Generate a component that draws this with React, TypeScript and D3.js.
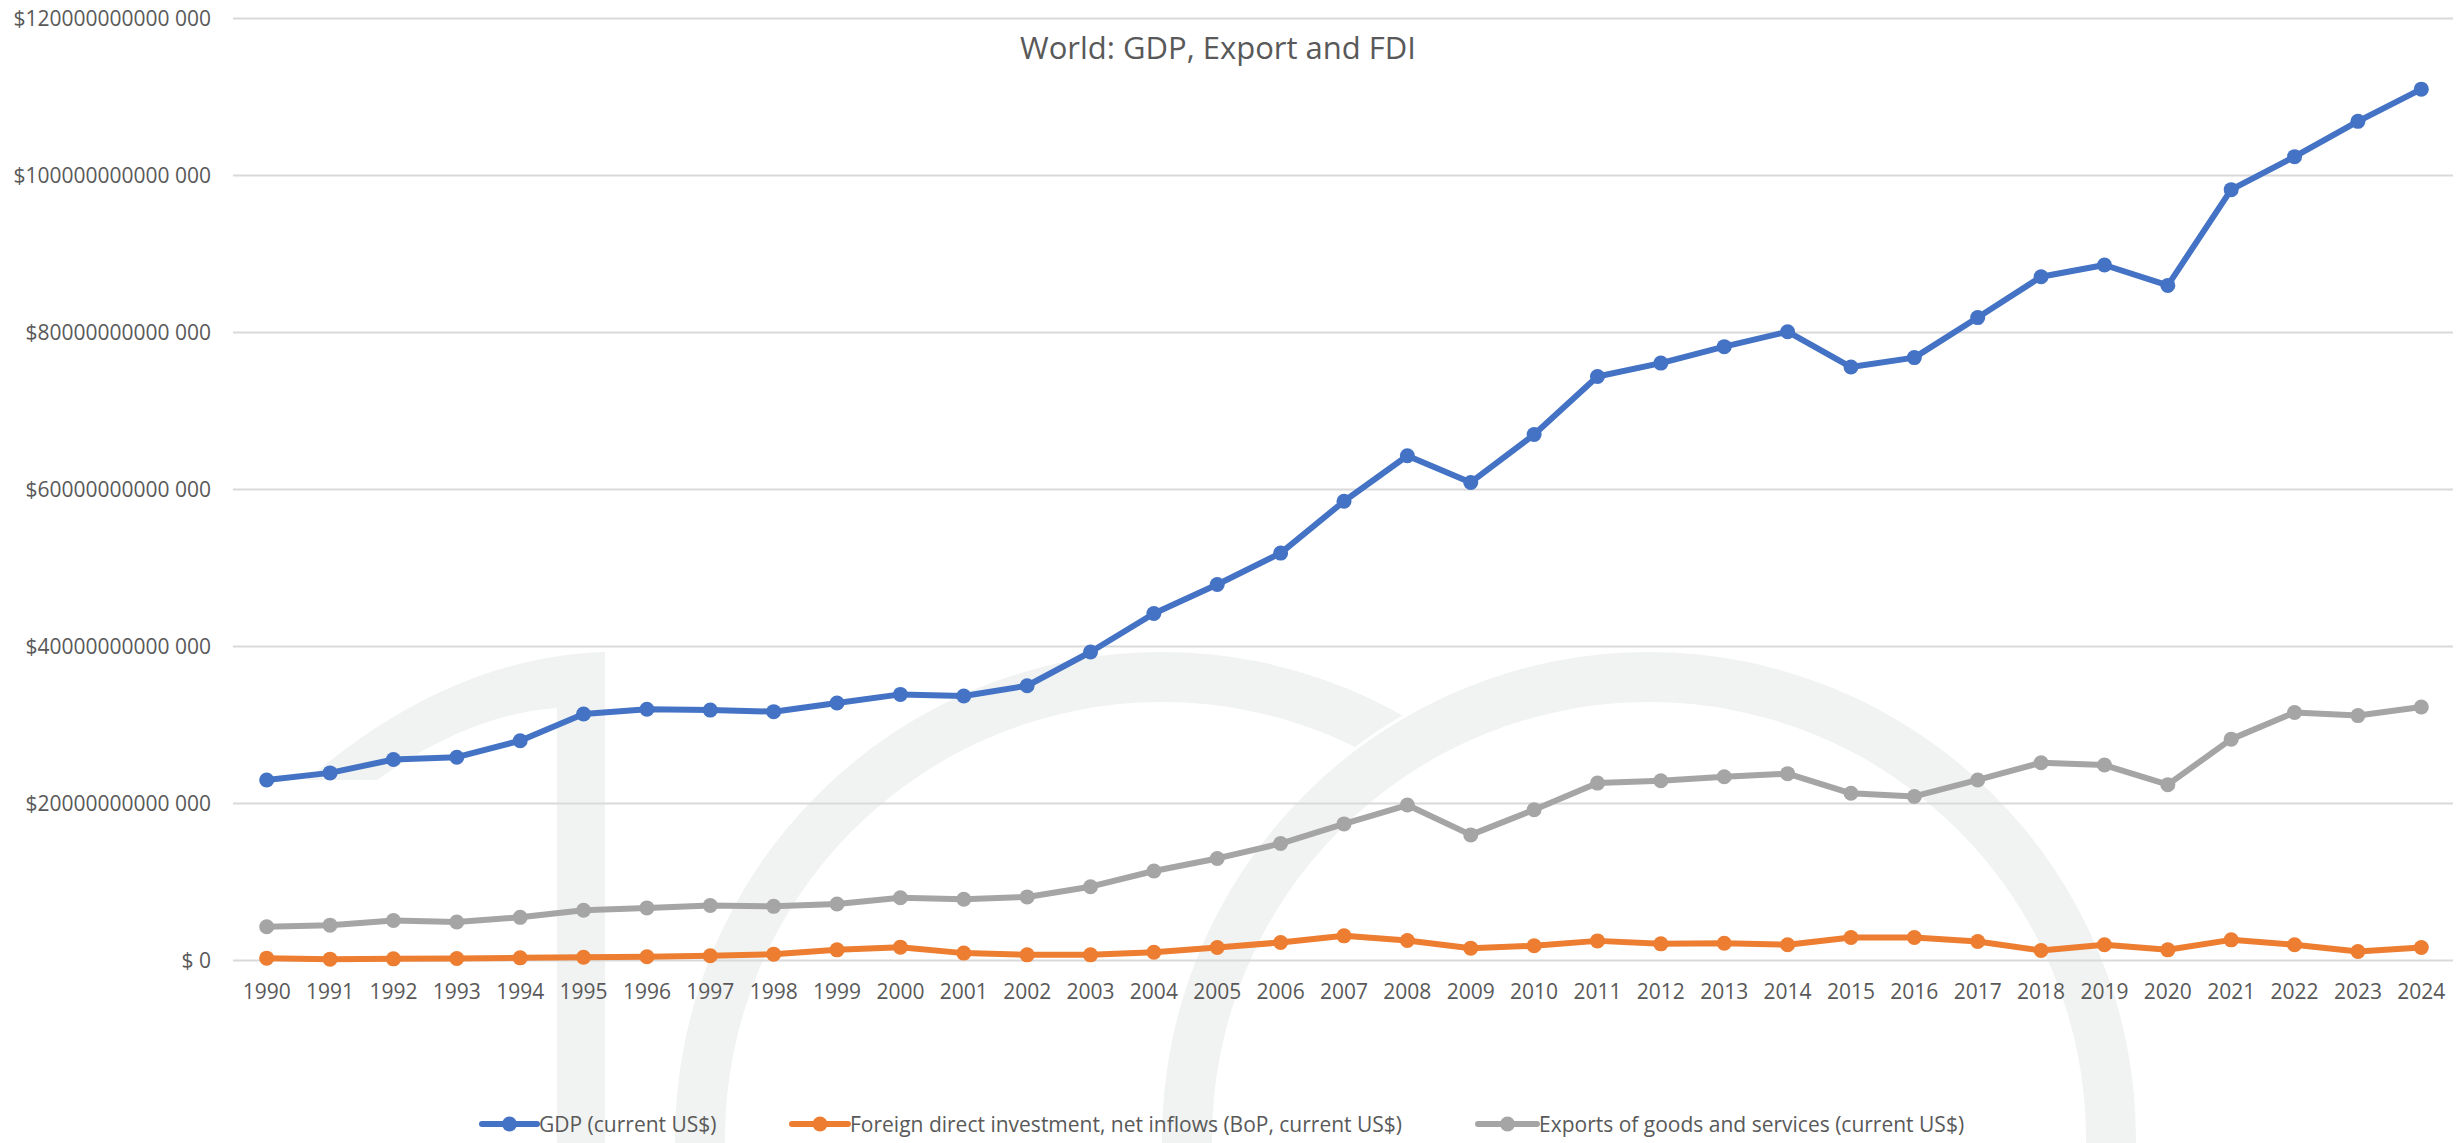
import React from "react";
import * as d3 from "d3";

const years: number[] = d3.range(1990, 2025);
// values in trillions of US$
const gdp: number[] = [23.0, 23.9, 25.6, 25.9, 28.0, 31.4, 32.0, 31.9, 31.7, 32.8, 33.9, 33.7, 35.0, 39.3, 44.2, 47.9, 51.9, 58.5, 64.3, 60.9, 67.0, 74.4, 76.1, 78.2, 80.1, 75.6, 76.8, 81.9, 87.1, 88.6, 86.0, 98.2, 102.4, 106.9, 111.0];
const fdi: number[] = [0.3, 0.17, 0.21, 0.25, 0.34, 0.42, 0.47, 0.6, 0.81, 1.36, 1.7, 0.94, 0.72, 0.72, 1.06, 1.66, 2.3, 3.14, 2.55, 1.57, 1.87, 2.5, 2.12, 2.2, 2.0, 2.93, 2.93, 2.42, 1.27, 2.0, 1.36, 2.63, 2.0, 1.15, 1.66];
const exportsGS: number[] = [4.3, 4.5, 5.1, 4.9, 5.5, 6.4, 6.7, 7.0, 6.9, 7.2, 8.0, 7.8, 8.1, 9.4, 11.4, 13.0, 14.9, 17.4, 19.8, 16.0, 19.2, 22.6, 22.9, 23.4, 23.8, 21.3, 20.9, 23.0, 25.2, 24.9, 22.4, 28.2, 31.6, 31.2, 32.3];
const yTicks: number[] = [0, 20e12, 40e12, 60e12, 80e12, 100e12, 120e12];
const seriesNames: string[] = ["GDP (current US$)", "Foreign direct investment, net inflows (BoP, current US$)", "Exports of goods and services (current US$)"];
const seriesColors: string[] = ["#4472C4", "#ED7D31", "#A5A5A5"];
const title = "World: GDP, Export and FDI";

const W = 2463;
const H = 1143;
const FONT = "'Open Sans', 'Noto Sans', sans-serif";
const TXT = "#595959";
const WM = "#F1F3F2";

function fmtTick(v: number): string {
  if (v === 0) return "$ 0";
  return "$" + String(Math.round(v / 1000)) + " 000";
}

export default function App() {
  const x = d3.scaleBand<number>().domain(years).range([235, 2453]);
  const cx = (yr: number) => (x(yr) as number) + x.bandwidth() / 2;
  const y = d3.scaleLinear().domain([0, 120e12]).range([960.5, 18.5]);

  const series = [gdp, fdi, exportsGS].map((vals, i) => ({
    name: seriesNames[i],
    color: seriesColors[i],
    pts: vals.map((v, j) => ({ year: years[j], value: v * 1e12 })),
  }));

  const line = d3
    .line<{ year: number; value: number }>()
    .x((d) => cx(d.year))
    .y((d) => y(d.value));

  const ring = (cxp: number, cyp: number, ro: number, ri: number) =>
    `M${cxp - ro},${cyp} a${ro},${ro} 0 1,0 ${2 * ro},0 a${ro},${ro} 0 1,0 ${-2 * ro},0 Z ` +
    `M${cxp - ri},${cyp} a${ri},${ri} 0 1,1 ${2 * ri},0 a${ri},${ri} 0 1,1 ${-2 * ri},0 Z`;

  const legendItems = [
    { lx: 482, tx: 539 },
    { lx: 792, tx: 850 },
    { lx: 1478, tx: 1539 },
  ];

  return (
    <svg
      width={W}
      height={H}
      style={{ position: "absolute", left: 0, top: 0, background: "#fff" }}
      fontFamily={FONT}
    >
      <rect x={0} y={0} width={W} height={H} fill="#fff" />
      {/* watermark */}
      <g>
        <path d={ring(1162, 1139, 487, 437)} fill={WM} fillRule="evenodd" />
        <circle cx={1649} cy={1139} r={490} fill="#fff" />
        <path d={ring(1649, 1139, 487, 437)} fill={WM} fillRule="evenodd" />
        <path
          d="M605,652 L605,1143 L557,1143 L557,708 C500,712 440,735 377,780 L307,780 C400,700 500,655 605,652 Z"
          fill={WM}
        />
      </g>
      {/* gridlines */}
      <g>
        {yTicks.map((t) => (
          <line key={t} x1={233} x2={2453} y1={y(t)} y2={y(t)} stroke="#D9D9D9" strokeWidth={2} />
        ))}
      </g>
      {/* y labels */}
      <g>
        {yTicks.map((t) => (
          <text key={t} x={211} y={y(t)} dy="0.35em" textAnchor="end" fontSize={21} fill={TXT}>
            {fmtTick(t)}
          </text>
        ))}
      </g>
      {/* x labels */}
      <g>
        {years.map((yr) => (
          <text key={yr} x={cx(yr)} y={999} textAnchor="middle" fontSize={21} fill={TXT}>
            {yr}
          </text>
        ))}
      </g>
      {/* series */}
      {series.map((s) => (
        <g key={s.name}>
          <path d={line(s.pts) || ""} fill="none" stroke={s.color} strokeWidth={6} strokeLinejoin="round" strokeLinecap="round" />
          {s.pts.map((p) => (
            <circle key={p.year} cx={cx(p.year)} cy={y(p.value)} r={7.5} fill={s.color} />
          ))}
        </g>
      ))}
      {/* title */}
      <text x={1218} y={59} textAnchor="middle" fontSize={31} fill={TXT}>
        {title}
      </text>
      {/* legend */}
      {series.map((s, i) => (
        <g key={"lg" + i}>
          <line x1={legendItems[i].lx} x2={legendItems[i].tx - 2} y1={1124} y2={1124} stroke={s.color} strokeWidth={6} strokeLinecap="round" />
          <circle cx={(legendItems[i].lx + legendItems[i].tx - 2) / 2} cy={1124} r={7.5} fill={s.color} />
          <text x={legendItems[i].tx} y={1132} fontSize={21} fill={TXT}>
            {s.name}
          </text>
        </g>
      ))}
    </svg>
  );
}
